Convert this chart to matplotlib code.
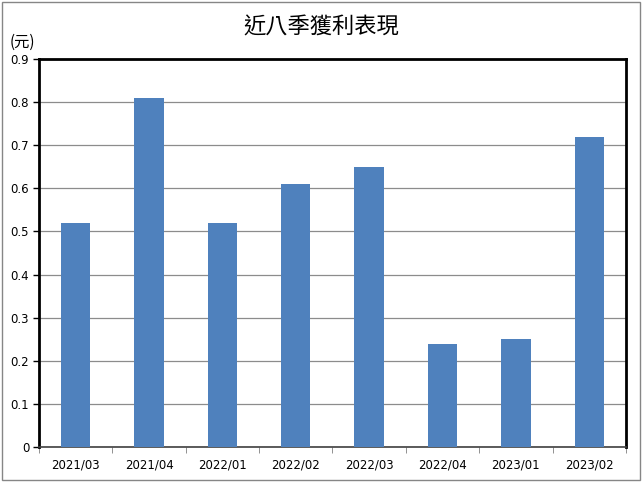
import matplotlib.pyplot as plt
from matplotlib.patches import Rectangle

plt.rcParams['font.family'] = ['Noto Sans CJK TC', 'DejaVu Sans']

quarters = ['2021/03', '2021/04', '2022/01', '2022/02',
            '2022/03', '2022/04', '2023/01', '2023/02']
eps = [0.52, 0.81, 0.52, 0.61, 0.65, 0.24, 0.25, 0.72]
yticks = [0, 0.1, 0.2, 0.3, 0.4, 0.5, 0.6, 0.7, 0.8, 0.9]

fig = plt.figure(figsize=(6.42, 4.82), dpi=100)
ax = fig.add_axes([0.0607, 0.0726, 0.9143, 0.805])

x = range(len(quarters))
ax.bar(x, eps, width=0.4, color='#4F81BD', zorder=3)

ax.set_xlim(-0.5, len(quarters) - 0.5)
ax.set_ylim(0, 0.9)
ax.set_yticks(yticks)
ax.set_yticklabels([f'{v:g}' for v in yticks], fontsize=8.5, family='DejaVu Sans')
ax.set_xticks(list(x))
ax.set_xticklabels(quarters, fontsize=8.5, family='DejaVu Sans')
ax.tick_params(axis='x', length=0, pad=8)
ax.set_xticks([i + 0.5 for i in range(-1, len(quarters))], minor=True)
ax.tick_params(axis='x', which='minor', length=4, color='#808080')
ax.tick_params(axis='y', length=4, width=1, pad=3)

ax.yaxis.grid(True, color='#8c8c8c', linewidth=0.9, zorder=0)

for side in ['top', 'left', 'right']:
    ax.spines[side].set_linewidth(2)
    ax.spines[side].set_color('black')
ax.spines['bottom'].set_linewidth(1.2)
ax.spines['bottom'].set_color('#404040')

fig.text(0.5, 0.944, '近八季獲利表現', ha='center', va='center', fontsize=16)
fig.text(0.015, 0.913, '(元)', ha='left', va='center', fontsize=11)

# outer chart border
fig.patches.append(Rectangle((0.003, 0.004), 0.994, 0.992, transform=fig.transFigure,
                             fill=False, edgecolor='#868686', linewidth=1))

fig.savefig('out.png', dpi=100)
